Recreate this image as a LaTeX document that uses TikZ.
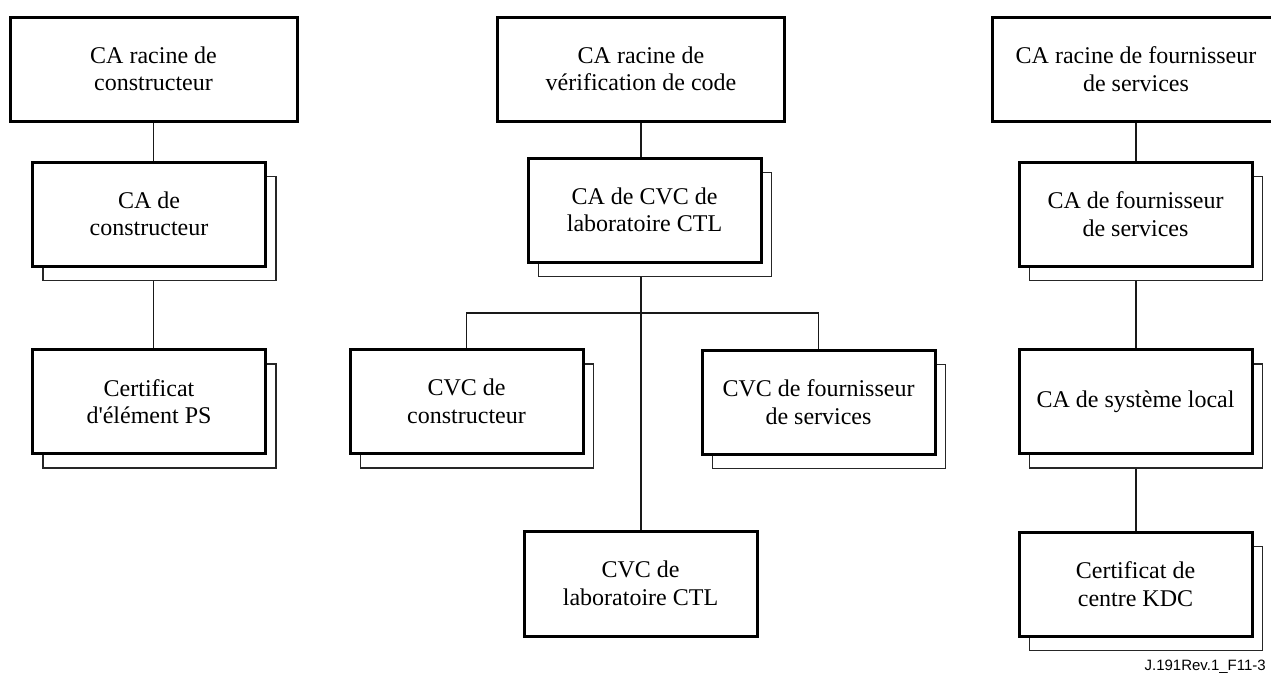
\documentclass[tikz,border=0pt]{standalone}
\usepackage{fontspec}
\setmainfont{Liberation Serif}[Ligatures=TeXOff]
\setsansfont{Liberation Sans}
\usetikzlibrary{shadows,backgrounds}

\tikzset{
  cabox/.style={draw, line width=3pt, fill=white, align=center, inner sep=0pt,
    font=\fontsize{24}{27.5}\selectfont},
  rootbox/.style={cabox, minimum width=287pt, minimum height=104pt},
  stackbox/.style={cabox, minimum width=233pt, minimum height=104pt,
    copy shadow={shadow xshift=10.5pt, shadow yshift=-14.5pt, draw=black!85,
      fill=white, line width=1.2pt}},
  plainbox/.style={cabox, minimum width=233pt, minimum height=105pt},
  link/.style={draw=black!90, line width=1.2pt},
  figref/.style={font=\fontsize{15}{18}\selectfont\sffamily, inner sep=0pt}
}

\begin{document}
\begin{tikzpicture}[x=1pt, y=-1pt]
  \path[use as bounding box, clip] (0,0) rectangle (1271,672);

  % Constructeur hierarchy
  \node[rootbox]  (L0) at (153.5,69)  {CA racine de\\constructeur};
  \node[stackbox] (L1) at (149,214)   {CA de\\constructeur};
  \node[stackbox] (L2) at (149,401.5) {Certificat\\d'élément PS};

  % Code verification hierarchy
  \node[rootbox]  (M0)  at (641,69)    {CA racine de\\vérification de code};
  \node[stackbox] (M1)  at (644.5,210) {CA de CVC de\\laboratoire CTL};
  \node[stackbox] (M2a) at (466.5,401.5) {CVC de\\constructeur};
  \node[stackbox] (M2b) at (818.5,402) {CVC de fournisseur\\de services};
  \node[plainbox] (M3)  at (640.5,583.5) {CVC de\\laboratoire CTL};

  % Service provider hierarchy
  \node[rootbox]  (R0) at (1136,69)    {CA racine de fournisseur\\de services};
  \node[stackbox] (R1) at (1135.5,214) {CA de fournisseur\\de services};
  \node[stackbox] (R2) at (1135.5,401.5) {CA de système local};
  \node[stackbox] (R3) at (1135.5,584) {Certificat de\\centre KDC};

  \node[figref, anchor=base east] (fig) at (1266,670) {J.191Rev.1\_F11-3};

  % Connectors run behind the boxes
  \begin{scope}[on background layer]
    \draw[link] (L0.south) -- (L0.south |- L2.north);
    \draw[link] (M0.south) -- (M0.south |- M3.north);
    \draw[link] (M2a.north) -- ++(0,-35) coordinate (bar) -| (M2b.north);
    \draw[link] (R0.south) -- (R0.south |- R3.north);
  \end{scope}
\end{tikzpicture}
\end{document}
